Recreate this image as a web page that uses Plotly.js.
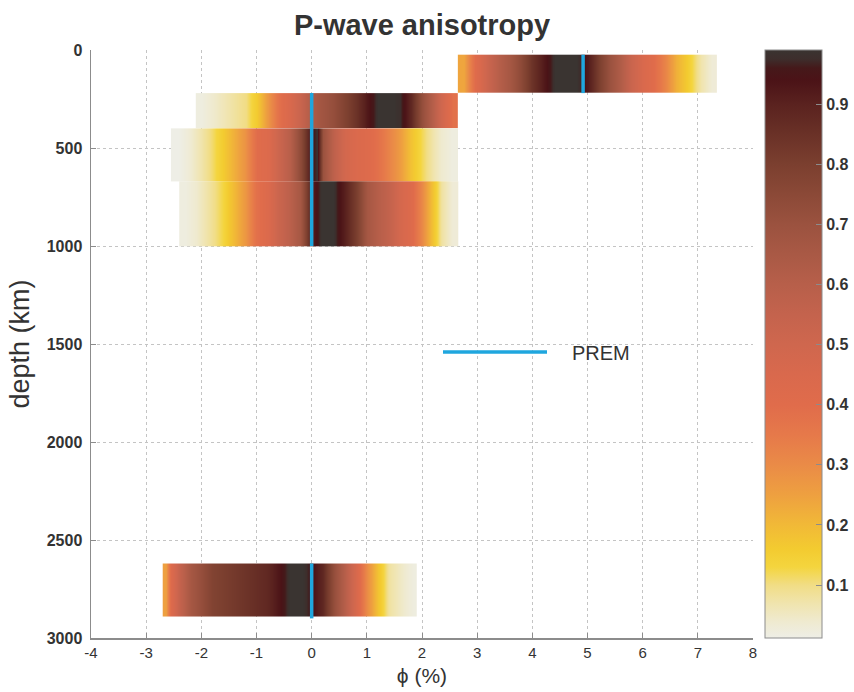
<!DOCTYPE html>
<html>
<head>
<meta charset="utf-8">
<script src="https://cdn.plot.ly/plotly-3.0.1.min.js"></script>
<style>html,body{margin:0;padding:0;background:#fff;}#chart{width:854px;height:692px;}</style>
</head>
<body>
<div id="chart"></div>
<script>
// ---- data ----
// layer depth bounds (km)
var layerTop    = [24, 220, 400, 670, 2620];
var layerBottom = [220, 400, 670, 1000, 2890];

// layer 1 (24-220 km)
var x1 = [2.75, 2.95, 3.2, 3.4, 3.6, 3.8, 4.0, 4.2, 4.4, 4.6, 4.8, 5.0, 5.2, 5.4, 5.6, 5.8, 6.0, 6.2, 6.4, 6.6, 6.8, 7.05, 7.25];
var z1 = [0.24, 0.4, 0.52, 0.6, 0.66, 0.74, 0.84, 0.92, 0.99, 1.0, 0.99, 0.92, 0.8, 0.7, 0.62, 0.52, 0.45, 0.4, 0.32, 0.22, 0.16, 0.07, 0.03];
// layer 2 (220-400 km)
var x2 = [-2.0, -1.8, -1.5, -1.2, -1.0, -0.8, -0.6, -0.4, -0.2, 0.0, 0.2, 0.4, 0.6, 0.8, 1.0, 1.2, 1.4, 1.6, 1.8, 2.0, 2.2, 2.35, 2.55];
var z2 = [0.02, 0.04, 0.07, 0.1, 0.16, 0.27, 0.38, 0.45, 0.53, 0.63, 0.68, 0.72, 0.78, 0.84, 0.92, 0.99, 1.0, 0.98, 0.88, 0.72, 0.6, 0.5, 0.38];
// layer 3 (400-670 km)
var x3 = [-2.45, -2.25, -2.0, -1.8, -1.6, -1.4, -1.2, -1.0, -0.8, -0.6, -0.4, -0.2, 0.0, 0.1, 0.2, 0.4, 0.6, 0.8, 1.0, 1.2, 1.4, 1.6, 1.8, 2.0, 2.2, 2.35, 2.55];
var z3 = [0.01, 0.03, 0.07, 0.11, 0.16, 0.22, 0.28, 0.4, 0.43, 0.52, 0.6, 0.75, 0.95, 0.98, 0.7, 0.57, 0.48, 0.44, 0.42, 0.38, 0.32, 0.26, 0.18, 0.12, 0.07, 0.04, 0.02];
// layer 4 (670-1000 km)
var x4 = [-2.3, -2.1, -1.8, -1.6, -1.4, -1.2, -1.0, -0.8, -0.6, -0.4, -0.2, 0.0, 0.2, 0.4, 0.6, 0.8, 1.0, 1.2, 1.4, 1.6, 1.8, 2.0, 2.2, 2.35, 2.55];
var z4 = [0.02, 0.04, 0.09, 0.13, 0.2, 0.27, 0.38, 0.43, 0.52, 0.58, 0.66, 0.9, 1.0, 0.99, 0.9, 0.8, 0.66, 0.6, 0.55, 0.47, 0.42, 0.3, 0.17, 0.08, 0.03];
// layer 5 (2620-2890 km)
var x5 = [-2.65, -2.55, -2.4, -2.2, -2.0, -1.8, -1.6, -1.4, -1.2, -1.0, -0.8, -0.6, -0.4, -0.2, 0.0, 0.2, 0.4, 0.6, 0.8, 1.0, 1.2, 1.4, 1.6, 1.75, 1.85];
var z5 = [0.25, 0.42, 0.55, 0.66, 0.72, 0.78, 0.8, 0.82, 0.84, 0.86, 0.88, 0.93, 0.99, 1.0, 0.95, 0.88, 0.72, 0.6, 0.46, 0.3, 0.18, 0.08, 0.05, 0.03, 0.02];

// PREM reference values
var premPhi   = [4.92, 4.92, null, 0, 0, null, 0, 0];
var premDepth = [24, 220, null, 220, 1000, null, 2620, 2900];

// axis ticks
var xTicks = [-4, -3, -2, -1, 0, 1, 2, 3, 4, 5, 6, 7, 8];
var yTicks = [0, 500, 1000, 1500, 2000, 2500, 3000];
var cbTicks = [0.1, 0.2, 0.3, 0.4, 0.5, 0.6, 0.7, 0.8, 0.9];

// colour scale stops (value, colour)
var zMin = 0.012, zMax = 0.99;
var stopVals = [0.012, 0.04, 0.07, 0.1, 0.13, 0.16, 0.2, 0.25, 0.3, 0.35, 0.4, 0.45, 0.5, 0.55, 0.6, 0.65, 0.7, 0.75, 0.8, 0.85, 0.9, 0.94, 0.96, 0.975, 0.99];
var stopCols = ['#eeeee6', '#efeacf', '#f0e4ad', '#f1dd85', '#f4d53e', '#f3cb30', '#f1b937', '#eea040', '#ea8b47', '#e6794a', '#e06c4b', '#d9694d', '#cf674e', '#c4634d', '#b75f4a', '#a95945', '#9b523f', '#8b4937', '#7b3f2f', '#6a3127', '#5a221f', '#4b1317', '#45191a', '#3d2e2c', '#3a3431'];

(function () {
  var cscale = stopVals.map(function (v, i) {
    var t = (v - zMin) / (zMax - zMin);
    t = Math.max(0, Math.min(1, t));
    return [t, stopCols[i]];
  });

  var FONT = 'Liberation Sans, Arial, Helvetica, sans-serif';

  var xsets = [x1, x2, x3, x4, x5];
  var zsets = [z1, z2, z3, z4, z5];
  var traces = [];
  for (var i = 0; i < xsets.length; i++) {
    var dTop = layerTop[i], dBot = layerBottom[i];
    traces.push({
      type: 'heatmap',
      x: xsets[i],
      y: [dTop, (dTop + dBot) / 2, dBot],
      z: [zsets[i].slice(), zsets[i].slice()],
      zsmooth: 'best',
      colorscale: cscale,
      zmin: zMin,
      zmax: zMax,
      showscale: i === 0,
      hoverinfo: 'skip',
      colorbar: {
        x: 1.018, xanchor: 'left', xpad: 0,
        y: 0.5, yanchor: 'middle', ypad: 0,
        len: 1, lenmode: 'fraction',
        thickness: 57, thicknessmode: 'pixels',
        outlinecolor: '#8c8c8c', outlinewidth: 1,
        tickvals: cbTicks,
        ticktext: cbTicks.map(function (v) { return v.toFixed(1); }),
        ticks: 'inside', ticklen: 6, tickcolor: '#8c8c8c',
        tickfont: {family: FONT, size: 16, color: '#333', weight: 'bold'}
      }
    });
  }

  traces.push({
    type: 'scatter', mode: 'lines', name: 'PREM',
    x: premPhi, y: premDepth,
    line: {color: '#1fa6de', width: 3.5},
    connectgaps: false, showlegend: false, hoverinfo: 'skip'
  });

  var layout = {
    width: 854, height: 692,
    margin: {l: 91, r: 101, t: 50, b: 54, pad: 0, autoexpand: false},
    paper_bgcolor: '#ffffff', plot_bgcolor: '#ffffff',
    showlegend: false,
    font: {family: FONT, color: '#333'},
    title: {
      text: 'P-wave anisotropy',
      font: {family: FONT, size: 29, color: '#333', weight: 'bold'},
      x: 0.5, xref: 'paper', xanchor: 'center',
      y: 1 - 25 / 692, yref: 'container', yanchor: 'middle'
    },
    xaxis: {
      range: [-4, 8], tickvals: xTicks, ticktext: xTicks.map(String),
      showgrid: true, gridcolor: '#c4c4c4', griddash: 'dot', gridwidth: 1,
      zeroline: false, showline: true, linecolor: '#8c8c8c', linewidth: 1.5,
      ticks: 'inside', ticklen: 5, tickcolor: '#8c8c8c',
      tickfont: {family: FONT, size: 15, color: '#333'},
      title: {text: 'ϕ (%)', font: {family: FONT, size: 21, color: '#333'}, standoff: 9},
      automargin: false
    },
    yaxis: {
      range: [3000, 0], tickvals: yTicks, ticktext: yTicks.map(String),
      showgrid: true, gridcolor: '#c4c4c4', griddash: 'dot', gridwidth: 1,
      zeroline: false, showline: true, linecolor: '#8c8c8c', linewidth: 1.5,
      ticks: 'inside', ticklen: 5, tickcolor: '#8c8c8c',
      ticklabelstandoff: 4,
      tickfont: {family: FONT, size: 16, color: '#333', weight: 'bold'},
      title: {text: 'depth (km)', font: {family: FONT, size: 27, color: '#333'}, standoff: 9},
      automargin: false
    },
    shapes: [{
      type: 'line', xref: 'paper', yref: 'paper',
      x0: (443 - 91) / 662, x1: (547 - 91) / 662,
      y0: 1 - (352 - 50) / 588, y1: 1 - (352 - 50) / 588,
      line: {color: '#1fa6de', width: 3.5}
    }],
    annotations: [{
      text: 'PREM', xref: 'paper', yref: 'paper',
      x: (570 - 91) / 662, y: 1 - (353 - 50) / 588,
      xanchor: 'left', yanchor: 'middle', showarrow: false,
      font: {family: FONT, size: 20, color: '#333'}
    }]
  };

  Plotly.newPlot('chart', traces, layout, {displayModeBar: false, staticPlot: true});
})();
</script>
</body>
</html>
